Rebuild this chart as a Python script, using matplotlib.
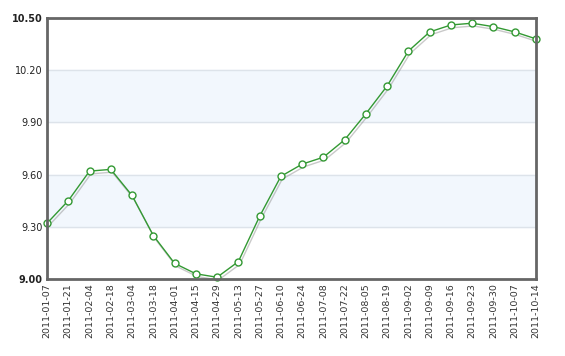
import matplotlib
matplotlib.use('Agg')
import matplotlib.pyplot as plt
import matplotlib.patheffects as pe

dates = ['2011-01-07', '2011-01-21', '2011-02-04', '2011-02-18', '2011-03-04',
         '2011-03-18', '2011-04-01', '2011-04-15', '2011-04-29', '2011-05-13',
         '2011-05-27', '2011-06-10', '2011-06-24', '2011-07-08', '2011-07-22',
         '2011-08-05', '2011-08-19', '2011-09-02', '2011-09-09', '2011-09-16',
         '2011-09-23', '2011-09-30', '2011-10-07', '2011-10-14']
values = [9.32, 9.45, 9.62, 9.63, 9.48, 9.25, 9.09, 9.03, 9.01, 9.10,
          9.36, 9.59, 9.66, 9.70, 9.80, 9.95, 10.11, 10.31, 10.42, 10.46,
          10.47, 10.45, 10.42, 10.38]
yticks = [9.00, 9.30, 9.60, 9.90, 10.20, 10.50]
bands = [(9.30, 9.60), (9.90, 10.20)]

fig = plt.figure(figsize=(5.65, 3.56), dpi=100)
ax = fig.add_axes([47 / 565, 77 / 356, 489 / 565, 261 / 356])

x = list(range(len(dates)))

# light blue bands and grid
for lo, hi in bands:
    ax.axhspan(lo, hi, color='#f2f7fd', zorder=0)
for t in yticks[1:-1]:
    ax.axhline(t, color='#dde3ea', lw=1, zorder=1)

# line with soft shadow
ax.plot(x, values, color='#339933', lw=1.0, zorder=3,
        path_effects=[pe.SimpleLineShadow(offset=(1, -2), shadow_color='#888888', alpha=0.45),
                      pe.Normal()])
ax.plot(x, values, ls='none', marker='o', ms=5, mfc='white', mec='#339933',
        mew=1.0, zorder=4, clip_on=False)

ax.set_xlim(0, len(dates) - 1)
ax.set_ylim(yticks[0], yticks[-1])
ax.set_yticks(yticks)
ax.set_yticklabels(['%.2f' % t for t in yticks])
ax.set_xticks(x)
ax.set_xticklabels(dates, rotation=90)

for lab in ax.get_yticklabels():
    lab.set_fontsize(7)
    lab.set_color('#222222')
ax.get_yticklabels()[0].set_fontweight('bold')
ax.get_yticklabels()[-1].set_fontweight('bold')
for lab in ax.get_xticklabels():
    lab.set_fontsize(6.8)
    lab.set_color('#333333')

ax.tick_params(length=0, pad=3)
for s in ax.spines.values():
    s.set_color('#666666')
    s.set_linewidth(2)
    s.set_zorder(5)

fig.savefig('out.png', dpi=100, facecolor='white')
